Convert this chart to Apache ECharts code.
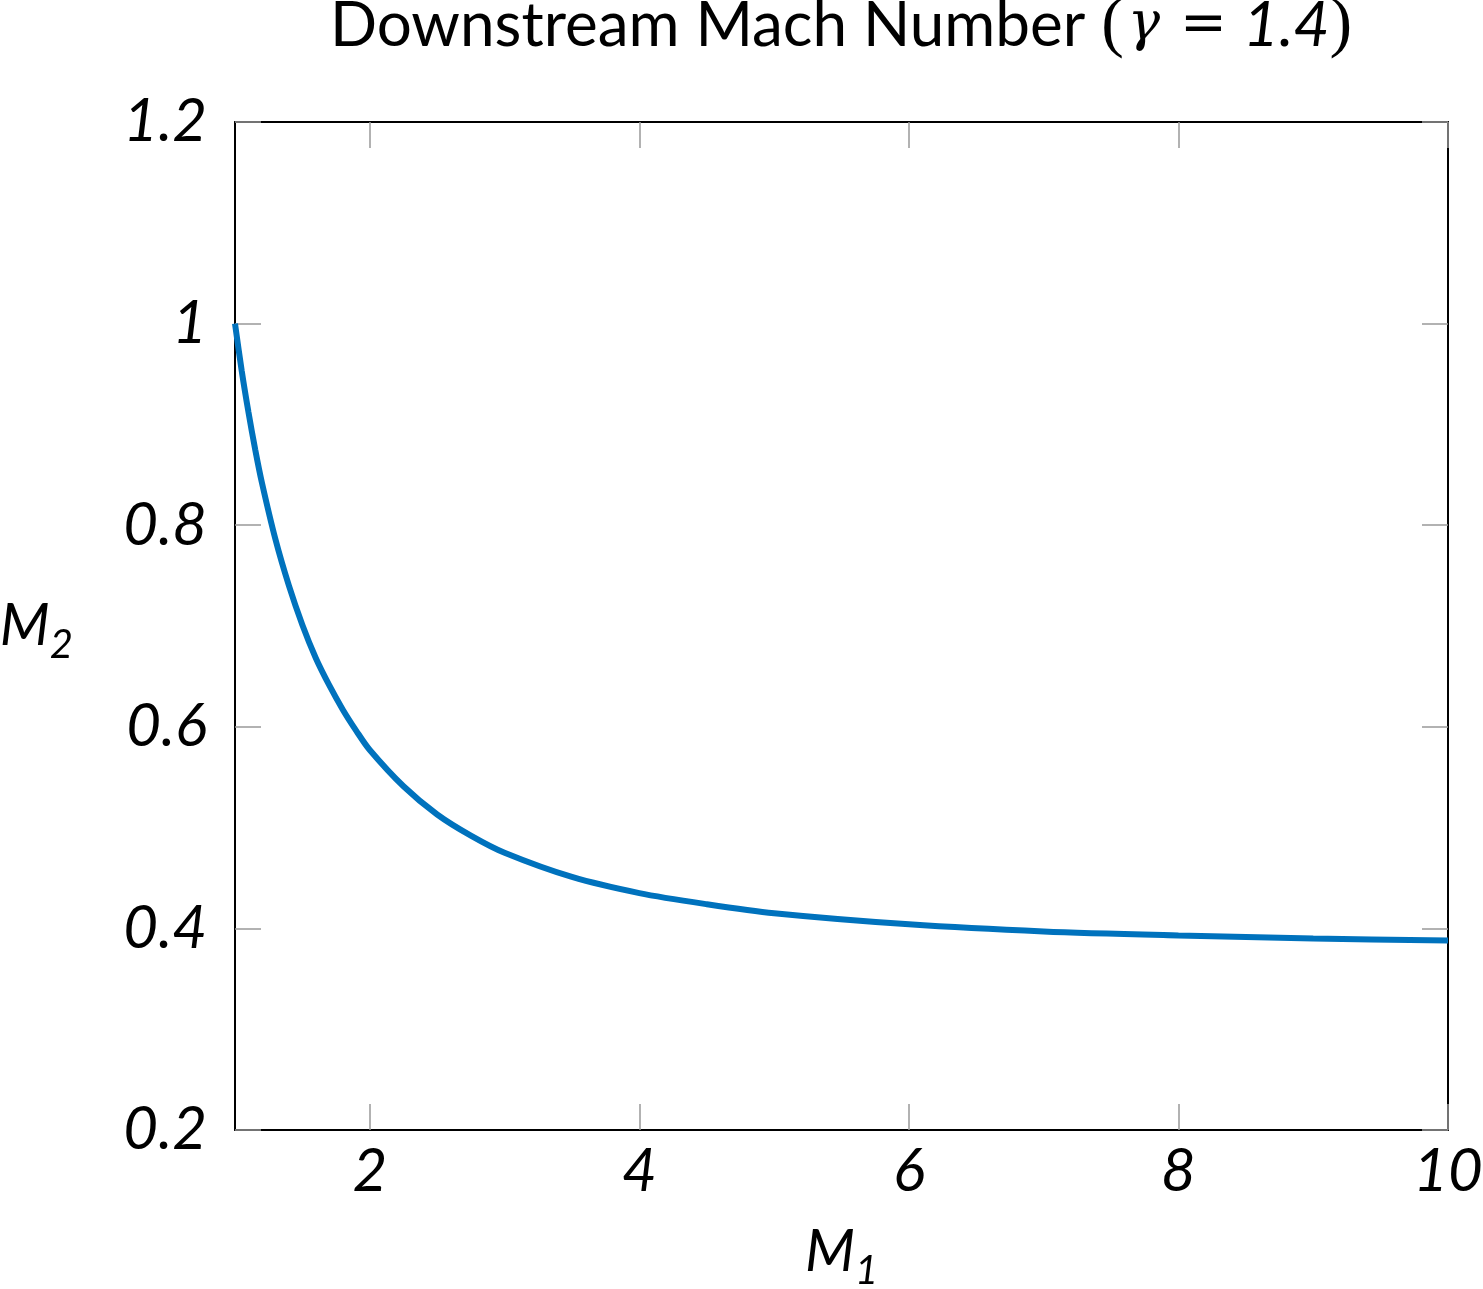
<!DOCTYPE html>
<html>
<head>
<meta charset="utf-8">
<script src="https://cdn.jsdelivr.net/npm/echarts@6/dist/echarts.min.js"></script>
<style>
  html, body { margin: 0; padding: 0; background: #fff; }
  #chart { width: 1483px; height: 1289px; }
</style>
</head>
<body>
<div id="chart"></div>
<script>
// upstream Mach number and the downstream value
const machUpstream = [1.0, 1.05, 1.1, 1.15, 1.2, 1.3, 1.4, 1.5, 1.6, 1.7, 1.8, 1.9, 2.0, 2.25, 2.5, 2.75, 3.0, 3.5, 4.0, 4.5, 5.0, 6.0, 7.0, 8.0, 9.0, 10.0]
const machDownstream = [1.0, 0.953, 0.912, 0.875, 0.842, 0.786, 0.740, 0.701, 0.668, 0.641, 0.617, 0.596, 0.577, 0.541, 0.513, 0.492, 0.475, 0.451, 0.435, 0.424, 0.415, 0.404, 0.397, 0.393, 0.390, 0.388]
const xTicks = [2, 4, 6, 8, 10]
const yTicks = [0.2, 0.4, 0.6, 0.8, 1, 1.2]

const chartDom = document.getElementById('chart')
const chart = echarts.init(chartDom)

const tickFont = 'Lato'
const frameLine = { show: true, lineStyle: { color: '#000', width: 2 } }
const innerTick = { show: true, inside: true, length: 26, lineStyle: { color: '#999', width: 1.5 } }

const subName = {
  m: { fontFamily: tickFont, fontStyle: 'italic', fontSize: 58, color: '#000', verticalAlign: 'bottom' },
  s: { fontFamily: tickFont, fontStyle: 'italic', fontSize: 40, color: '#000', verticalAlign: 'bottom', padding: [0, 0, -10, 0] }
}

const option = {
  backgroundColor: '#fff',
  animation: false,
  grid: { left: 235, right: 35, top: 122, bottom: 159, outerBoundsMode: 'none', containLabel: false },
  graphic: [
    {
      type: 'text',
      x: 841,
      y: -8,
      style: {
        text: '{t|Downstream Mach Number }{p|(}{g|γ}{e|=}{n|1.4}{p|)}',
        textAlign: 'center',
        rich: {
          t: { fontFamily: 'Lato', fontSize: 62, fill: '#000', color: '#000' },
          p: { fontFamily: 'Liberation Serif', fontSize: 68, fill: '#000', color: '#000' },
          g: { fontFamily: 'DejaVu Serif', fontStyle: 'italic', fontSize: 54, fill: '#000', color: '#000', padding: [0, 4, 0, 4] },
          e: { fontFamily: 'DejaVu Sans', fontSize: 56, fill: '#000', color: '#000', padding: [0, 16, 0, 16] },
          n: { fontFamily: 'Lato', fontStyle: 'italic', fontSize: 62, fill: '#000', color: '#000' }
        }
      }
    }
  ],
  xAxis: [
    {
      type: 'value',
      min: 1,
      max: 10,
      position: 'bottom',
      splitLine: { show: false },
      axisLine: frameLine,
      axisTick: { ...innerTick, customValues: xTicks },
      axisLabel: {
        customValues: xTicks,
        fontFamily: tickFont,
        fontStyle: 'italic',
        fontSize: 60,
        color: '#000',
        margin: 12
      },
      name: '{m|M}{s|1}',
      nameLocation: 'middle',
      nameGap: 93,
      nameTextStyle: { rich: subName }
    },
    {
      type: 'value',
      min: 1,
      max: 10,
      position: 'top',
      splitLine: { show: false },
      axisLine: frameLine,
      axisTick: { ...innerTick, customValues: xTicks },
      axisLabel: { show: false }
    }
  ],
  yAxis: [
    {
      type: 'value',
      min: 0.2,
      max: 1.2,
      interval: 0.2,
      position: 'left',
      splitLine: { show: false },
      axisLine: frameLine,
      axisTick: { ...innerTick, customValues: yTicks },
      axisLabel: {
        customValues: yTicks,
        formatter: (v) => String(Math.round(v * 10) / 10),
        fontFamily: tickFont,
        fontStyle: 'italic',
        fontSize: 60,
        color: '#000',
        margin: 28
      },
      name: '{m|M}{s|2}',
      nameLocation: 'middle',
      nameRotate: 0,
      nameGap: 162,
      nameTextStyle: { rich: subName }
    },
    {
      type: 'value',
      min: 0.2,
      max: 1.2,
      position: 'right',
      splitLine: { show: false },
      axisLine: frameLine,
      axisTick: { ...innerTick, customValues: yTicks },
      axisLabel: { show: false }
    }
  ],
  series: [
    {
      type: 'line',
      data: machUpstream.map((m, i) => [m, machDownstream[i]]),
      smooth: 0.3,
      showSymbol: false,
      lineStyle: { color: '#0072bd', width: 6 },
      z: 1
    }
  ]
}

chart.setOption(option)
</script>
</body>
</html>
